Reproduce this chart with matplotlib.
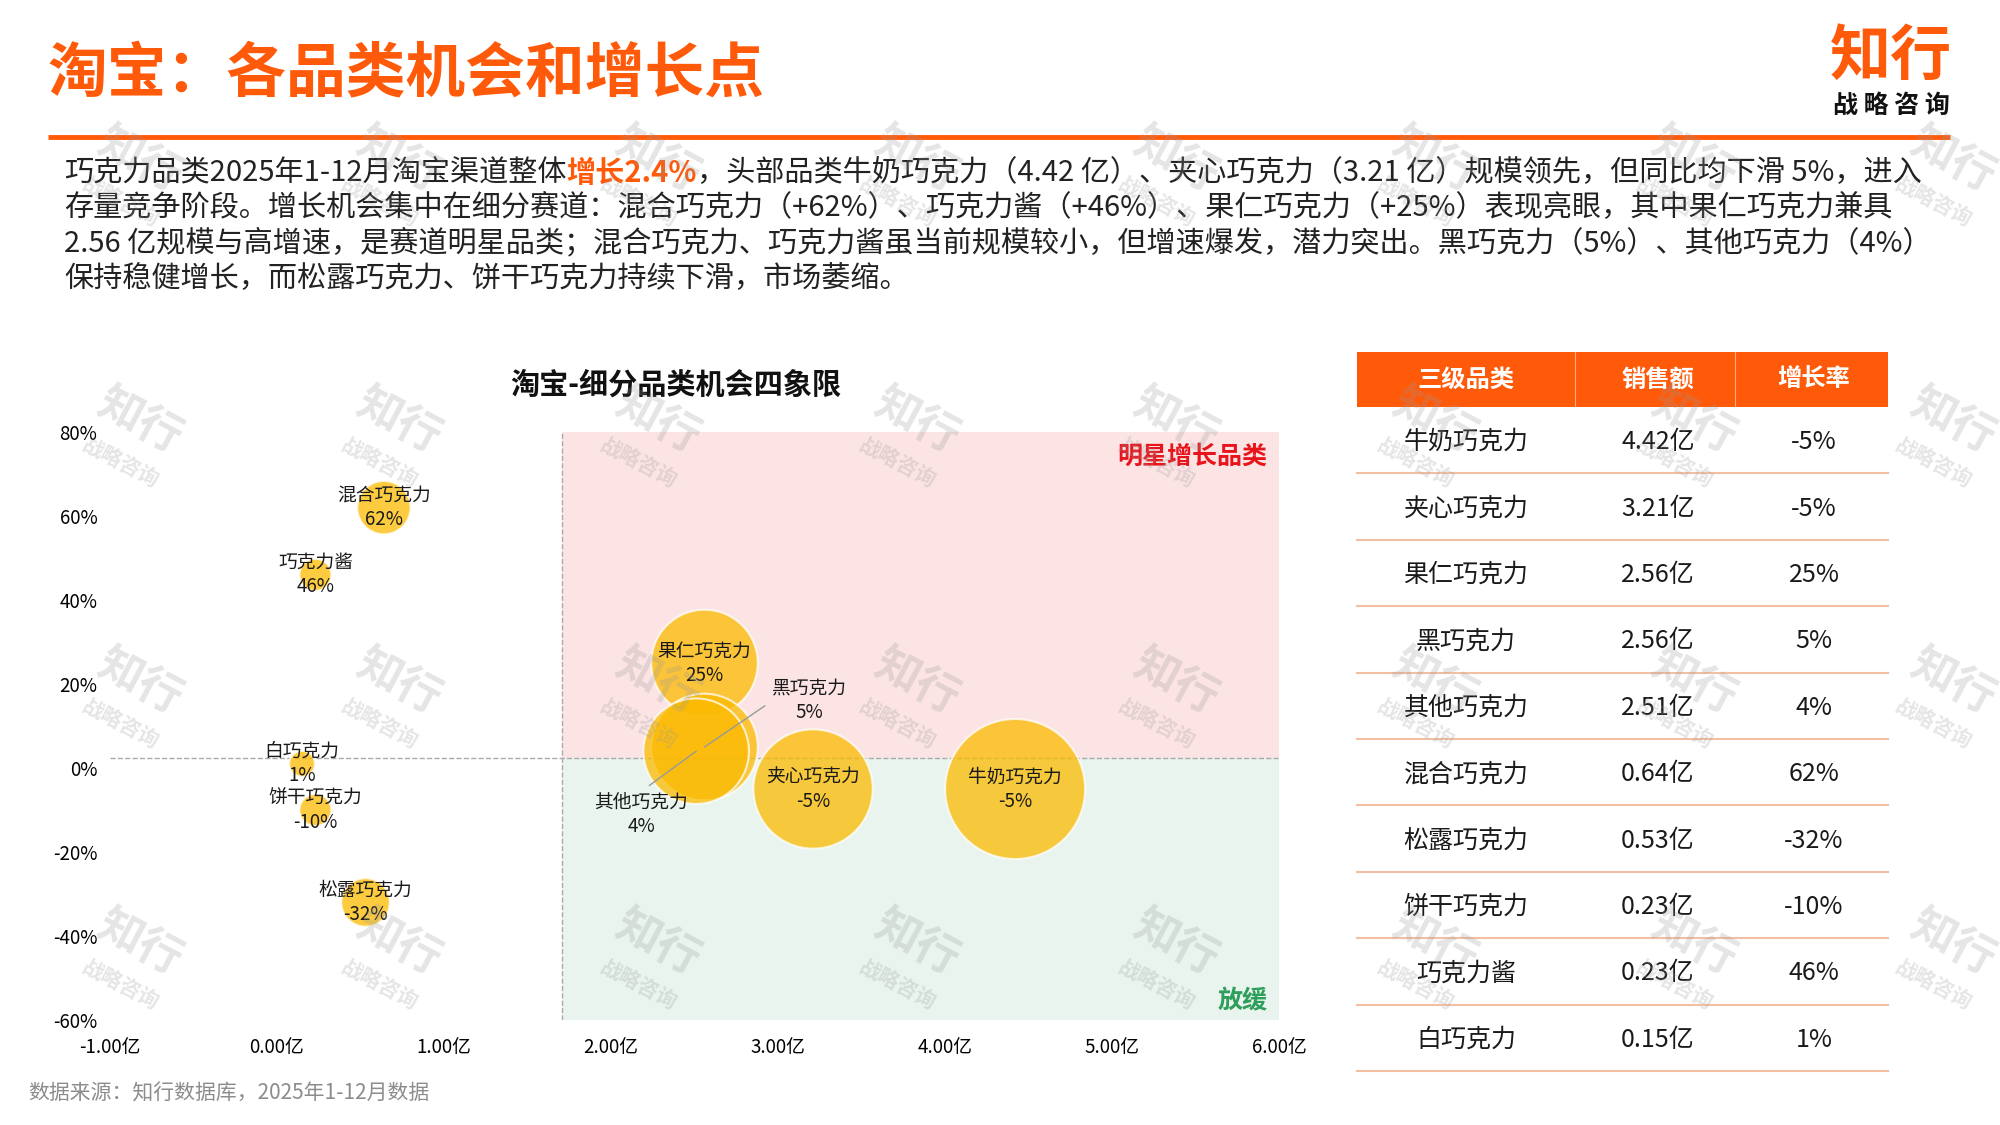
import numpy as np
import matplotlib
matplotlib.use('Agg')
import matplotlib.pyplot as plt
from matplotlib.patches import Rectangle

plt.rcParams['font.family'] = ['Noto Sans CJK SC', 'DejaVu Sans']
plt.rcParams['axes.unicode_minus'] = False

# data: taobao chocolate sub-categories (sales in 亿, yoy growth)
categories = ['牛奶巧克力', '夹心巧克力', '果仁巧克力', '黑巧克力', '其他巧克力',
              '混合巧克力', '松露巧克力', '饼干巧克力', '巧克力酱', '白巧克力']
sales = [4.42, 3.21, 2.56, 2.56, 2.51, 0.64, 0.53, 0.23, 0.23, 0.15]
growth = [-0.05, -0.05, 0.25, 0.05, 0.04, 0.62, -0.32, -0.10, 0.46, 0.01]
overall_growth = 0.024
x_ticks = [-1, 0, 1, 2, 3, 4, 5, 6]
y_ticks = [-0.6, -0.4, -0.2, 0.0, 0.2, 0.4, 0.6, 0.8]
table_header = ['三级品类', '销售额', '增长率']

title = '淘宝：各品类机会和增长点'
para_line1 = ['巧克力品类2025年1-12月淘宝渠道整体', '增长2.4%',
              '，头部品类牛奶巧克力（4.42 亿）、夹心巧克力（3.21 亿）规模领先，但同比均下滑 5%，进入']
para_lines = [
    '存量竞争阶段。增长机会集中在细分赛道：混合巧克力（+62%）、巧克力酱（+46%）、果仁巧克力（+25%）表现亮眼，其中果仁巧克力兼具',
    '2.56 亿规模与高增速，是赛道明星品类；混合巧克力、巧克力酱虽当前规模较小，但增速爆发，潜力突出。黑巧克力（5%）、其他巧克力（4%）',
    '保持稳健增长，而松露巧克力、饼干巧克力持续下滑，市场萎缩。',
]
source = '数据来源：知行数据库，2025年1-12月数据'

ORANGE = '#FF5A0A'
W, H = 2000, 1125

fig = plt.figure(figsize=(20, 11.25), dpi=100)
fig.patch.set_facecolor('white')

# background axes in pixel coords (origin top-left)
bg = fig.add_axes([0, 0, 1, 1])
bg.set_xlim(0, W)
bg.set_ylim(H, 0)
bg.axis('off')

# header
bg.text(48, 74, title, fontsize=43, fontweight='heavy', color=ORANGE, va='center', ha='left')
bg.plot([48, 1950], [137, 137], color=ORANGE, lw=3.5, solid_capstyle='butt')
bg.text(1891, 57, '知行', fontsize=44, fontweight='heavy', color=ORANGE, ha='center', va='center')
bg.text(1891, 106, '战 略 咨 询', fontsize=18, fontweight='bold', color='#111111', ha='center', va='center')

# paragraph
renderer = fig.canvas.get_renderer()
x0 = 64
styles = [dict(color='#222222'), dict(color=ORANGE, fontweight='bold'), dict(color='#222222')]
for part, st in zip(para_line1, styles):
    t = bg.text(x0, 173, part, fontsize=21, va='center', ha='left', **st)
    x0 = t.get_window_extent(renderer).x1
for i, line in enumerate(para_lines):
    bg.text(64, 208 + 35.3 * i, line, fontsize=21, va='center', ha='left', color='#222222')

# chart title
bg.text(676, 385, '淘宝-细分品类机会四象限', fontsize=21, fontweight='bold', color='#111111',
        ha='center', va='center')

# source
bg.text(28, 1093, source, fontsize=15, color='#8C8C8C', ha='left', va='center')

# table
tx, tw = 1357, 531
hy, hh = 352, 55
row_h = 66.4
col_x = [1466, 1658, 1814]
bg.add_patch(Rectangle((tx, hy), tw, hh, color=ORANGE, lw=0))
for xd in [1575, 1735]:
    bg.plot([xd, xd], [hy, hy + hh], color='white', lw=0.8, alpha=0.5)
for cx, h in zip(col_x, table_header):
    bg.text(cx, hy + hh / 2, h, fontsize=17.5, fontweight='bold', color='white', ha='center', va='center')
for k, (c, s, g) in enumerate(zip(categories, sales, growth)):
    yc = hy + hh + row_h * (k + 0.5) + 2
    vals = [c, f'{s:.2f}亿', f'{round(g * 100):d}%']
    for cx, v in zip(col_x, vals):
        bg.text(cx, yc, v, fontsize=18, color='#1a1a1a', ha='center', va='center')
    yl = hy + hh + row_h * (k + 1)
    bg.plot([tx, tx + tw], [yl, yl], color='#F3BFA3', lw=1.5)

# chart axes
ax = fig.add_axes([110 / W, 1 - 1020 / H, (1279 - 110) / W, (1020 - 432) / H])
ax.set_facecolor('none')
ax.set_xlim(-1, 6)
ax.set_ylim(-0.6, 0.8)
for sp in ax.spines.values():
    sp.set_visible(False)
ax.set_xticks(x_ticks)
ax.set_xticklabels([f'{v:.2f}亿' for v in x_ticks], fontsize=13.5)
ax.set_yticks(y_ticks)
ax.set_yticklabels([f'{round(v * 100):d}%' for v in y_ticks], fontsize=13.5)
ax.tick_params(length=0, axis='x', pad=12)
ax.tick_params(length=0, axis='y', pad=9)

mean_sales = np.mean(sales)
ax.fill_between([mean_sales, 6], overall_growth, 0.8, color='#FCE4E4', lw=0, zorder=0)
ax.fill_between([mean_sales, 6], -0.6, overall_growth, color='#E9F4EE', lw=0, zorder=0)
ax.plot([-1, 6], [overall_growth, overall_growth], color='#AAAAAA', ls='--', lw=1, zorder=1)
ax.plot([mean_sales, mean_sales], [-0.6, 0.8], color='#AAAAAA', ls='--', lw=1, zorder=1)

ax.text(5.93, 0.74, '明星增长品类', fontsize=18, fontweight='bold', color='#E8141B', ha='right', va='center')
ax.text(5.93, -0.555, '放缓', fontsize=18, fontweight='bold', color='#2E9E5B', ha='right', va='center')

ax.scatter(sales, growth, s=np.array(sales) * 2300, color='#FBBA00', alpha=0.75,
           edgecolor='white', linewidth=1.5, zorder=3)

callouts = {'黑巧克力': ((3.19, 0.16), (0, 0.5)), '其他巧克力': ((2.18, -0.11), (0.5, 1))}
for c, s, g in zip(categories, sales, growth):
    label = f'{c}\n{round(g * 100):d}%'
    if c in callouts:
        pos, rp = callouts[c]
        ax.annotate(label, xy=(s, g), xytext=pos, fontsize=13.5, ha='center', va='center',
                    color='#1a1a1a', zorder=5,
                    arrowprops=dict(arrowstyle='-', color='#999999', lw=1, relpos=rp,
                                    shrinkA=4, shrinkB=0))
    else:
        ax.text(s, g, label, fontsize=13.5, ha='center', va='center', color='#1a1a1a', zorder=5)

# watermark overlay
wm = fig.add_axes([0, 0, 1, 1], zorder=10)
wm.set_xlim(0, W)
wm.set_ylim(H, 0)
wm.axis('off')
wm.set_facecolor('none')
for j in range(4):
    for i in range(8):
        cx = 140 + 259 * i
        cy = 160 + 261 * j
        wm.text(cx, cy, '知行', fontsize=32, fontweight='heavy', color='#999999', alpha=0.25,
                rotation=-28, ha='center', va='center', rotation_mode='anchor')
        wm.text(cx - 20, cy + 42, '战略咨询', fontsize=15, fontweight='bold', color='#999999',
                alpha=0.25, rotation=-28, ha='center', va='center', rotation_mode='anchor')

fig.savefig('out.png', dpi=100, facecolor='white')
